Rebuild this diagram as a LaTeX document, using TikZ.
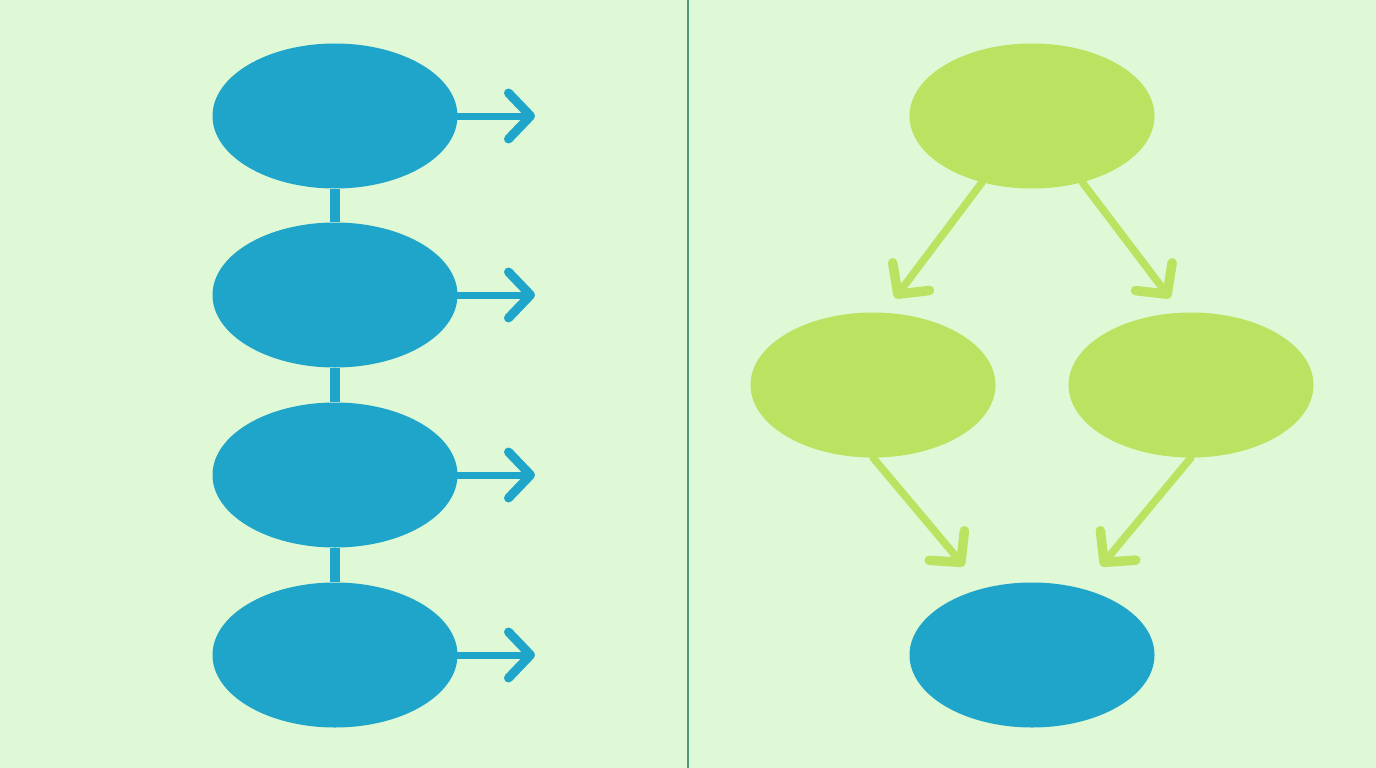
\documentclass[tikz,border=0pt]{standalone}
\usetikzlibrary{arrows.meta,shapes.geometric}
\definecolor{bg}{HTML}{DFF9D6}
\definecolor{cblue}{HTML}{1FA5C9}
\definecolor{cgreen}{HTML}{BBE261}
\definecolor{cdiv}{HTML}{4E9A7A}
\tikzset{
  oval/.style={ellipse, inner sep=0pt, minimum width=245pt, minimum height=145pt, draw=none},
  blueoval/.style={oval, fill=cblue},
  greenoval/.style={oval, fill=cgreen},
  link/.style={draw=cblue, line width=10pt},
  barrow/.style={draw=cblue, line width=7pt, line cap=round,
    -{Straight Barb[length=22pt,width=46pt,line width=2pt 1,round]}},
  garrow/.style={draw=cgreen, line width=7.5pt, line cap=round,
    -{Straight Barb[length=22pt,width=46pt,line width=2pt 1,round]}},
}
\begin{document}
\begin{tikzpicture}[x=1pt,y=-1pt]
\fill[bg] (0,0) rectangle (1376,768);
\useasboundingbox (0,0) rectangle (1376,768);
\draw[cdiv, line width=2pt] (688,0) -- (688,768);
% left column
\node[blueoval] (a1) at (335,116) {};
\node[blueoval] (a2) at (335,295) {};
\node[blueoval] (a3) at (335,475) {};
\node[blueoval] (a4) at (335,655) {};
\coordinate (e1) at (535,116);
\coordinate (e2) at (535,295);
\coordinate (e3) at (535,475);
\coordinate (e4) at (535,655);
\draw[link] (a1.south) -- (a2.north);
\draw[link] (a2.south) -- (a3.north);
\draw[link] (a3.south) -- (a4.north);
\draw[barrow] (a1.east) -- (e1);
\draw[barrow] (a2.east) -- (e2);
\draw[barrow] (a3.east) -- (e3);
\draw[barrow] (a4.east) -- (e4);
% right
\node[greenoval] (g1) at (1032,116) {};
\node[greenoval] (g2) at (873,385) {};
\node[greenoval] (g3) at (1191,385) {};
\node[blueoval] (b1) at (1032,655) {};
\coordinate (t1) at (895,298);
\coordinate (t2) at (1170,298);
\coordinate (t3) at (964,566);
\coordinate (t4) at (1101,566);
\draw[garrow] (g1) -- (t1);
\draw[garrow] (g1) -- (t2);
\draw[garrow] (g2.south) -- (t3);
\draw[garrow] (g3.south) -- (t4);
\end{tikzpicture}
\end{document}
